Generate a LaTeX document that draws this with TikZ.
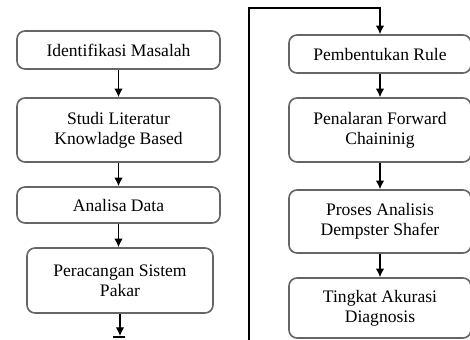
\documentclass[tikz,border=0pt]{standalone}
\usepackage{fontspec}
\setmainfont{Liberation Serif}
\usetikzlibrary{arrows.meta}

\begin{document}
\begin{tikzpicture}[x=0.03cm,y=-0.03cm,semithick,>={Latex[length=2.6mm,width=2.6mm]},
    kotak/.style={draw=black!60,line width=1.4pt,rounded corners=2.4mm,align=center,
      font=\fontsize{15}{17}\selectfont,text=black,inner sep=0pt},
    panah/.style={->,black,line width=1.1pt}]
  \useasboundingbox (0,0) rectangle (470,340);
  \clip (0,0) rectangle (470,340);
  % kolom kiri
  \node[kotak,minimum width=6.09cm,minimum height=1.14cm] (ident) at (118.5,50) {Identifikasi Masalah};
  \node[kotak,minimum width=6.09cm,minimum height=1.92cm] (studi) at (118.5,130) {Studi Literatur\\Knowladge Based};
  \node[kotak,minimum width=6.09cm,minimum height=1.08cm] (analisa) at (118.5,205) {Analisa Data};
  \node[kotak,minimum width=5.58cm,minimum height=1.95cm] (perancangan) at (120,280.5) {Peracangan Sistem\\Pakar};
  \draw[panah] (ident.south) -- (ident.south |- studi.north);
  \draw[panah] (studi.south) -- (studi.south |- analisa.north);
  \draw[panah] (analisa.south) -- (analisa.south |- perancangan.north);
  \coordinate (ujung) at (119,336);
  \draw[panah] (perancangan.south) -- (perancangan.south |- ujung);
  \draw[line width=1pt] (113,337) -- (125,337);
  % kolom kanan
  \node[kotak,minimum width=5.46cm,minimum height=1.14cm] (rule) at (380,54) {Pembentukan Rule};
  \node[kotak,minimum width=5.46cm,minimum height=1.92cm] (penalaran) at (380,130) {Penalaran Forward\\Chaininig};
  \node[kotak,minimum width=5.46cm,minimum height=1.89cm] (proses) at (380,221.5) {Proses Analisis\\Dempster Shafer};
  \node[kotak,minimum width=5.46cm,minimum height=1.8cm] (akurasi) at (380,308) {Tingkat Akurasi\\Diagnosis};
  \coordinate (bawah) at (249,345);
  \coordinate (atas) at (249,8);
  \draw[panah] (bawah) -- (atas) -| (rule.north);
  \draw[panah] (rule.south) -- (penalaran.north);
  \draw[panah] (penalaran.south) -- (proses.north);
  \draw[panah] (proses.south) -- (akurasi.north);
\end{tikzpicture}
\end{document}
